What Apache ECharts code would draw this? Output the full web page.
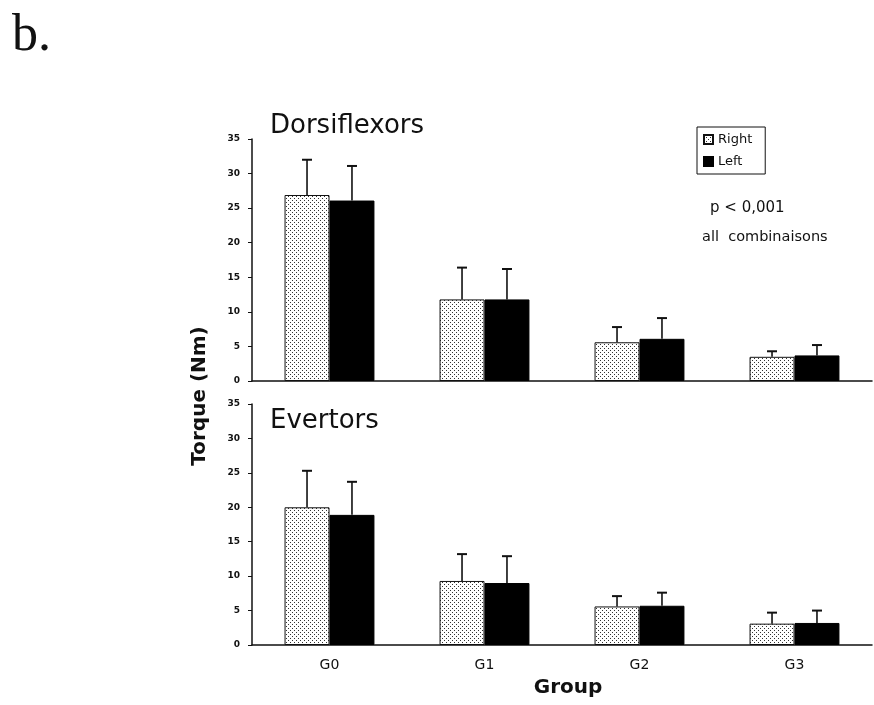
<!DOCTYPE html>
<html>
<head>
<meta charset="utf-8">
<script src="https://cdn.jsdelivr.net/npm/echarts@6/dist/echarts.min.js"></script>
<style>
html,body{margin:0;padding:0;background:#fff;}
#chart{width:874px;height:705px;}
</style>
</head>
<body>
<div id="chart"></div>
<script>
// ---- data ----
const categories = ['G0', 'G1', 'G2', 'G3'];
const yTicks = [0, 5, 10, 15, 20, 25, 30, 35];
// Dorsiflexors (mean, SD)
const dorsiRight = [26.9, 11.8, 5.6, 3.5];
const dorsiRightSD = [5.1, 4.6, 2.2, 0.8];
const dorsiLeft = [26.1, 11.8, 6.1, 3.7];
const dorsiLeftSD = [5.0, 4.4, 3.0, 1.5];
// Evertors (mean, SD)
const everRight = [20.0, 9.3, 5.6, 3.1];
const everRightSD = [5.3, 3.9, 1.5, 1.6];
const everLeft = [18.9, 9.0, 5.7, 3.2];
const everLeftSD = [4.8, 3.9, 1.9, 1.8];

// ---- pattern for "Right" bars ----
const pc = document.createElement('canvas');
pc.width = 4; pc.height = 4;
const pctx = pc.getContext('2d');
pctx.fillStyle = '#ffffff'; pctx.fillRect(0, 0, 4, 4);
pctx.fillStyle = '#333333';
pctx.fillRect(0, 0, 1, 1);
pctx.fillRect(2, 2, 1, 1);
const dotted = { image: pc, repeat: 'repeat' };

const chart = echarts.init(document.getElementById('chart'), null, { renderer: 'canvas' });

function errRender(sign) {
  return function (params, api) {
    const v = api.value(1), e = api.value(2), c = api.value(0);
    const p0 = api.coord([c, v]);
    const p1 = api.coord([c, v + e]);
    const band = api.size([1, 0])[0];
    const x = p0[0] + sign * band * 0.145;
    return {
      type: 'group',
      children: [
        { type: 'line', shape: { x1: x, y1: p0[1], x2: x, y2: p1[1] }, style: { stroke: '#111', lineWidth: 1.6 } },
        { type: 'line', shape: { x1: x - 5, y1: p1[1], x2: x + 5, y2: p1[1] }, style: { stroke: '#111', lineWidth: 2 } }
      ]
    };
  };
}
function errData(vals, sds) { return vals.map((v, i) => [i, v, sds[i]]); }

const yAxisBase = {
  type: 'value', min: 0, max: 35, interval: 5,
  axisLine: { show: true, lineStyle: { color: '#111', width: 1.5 } },
  axisTick: { show: true, length: 4, lineStyle: { color: '#111', width: 1 } },
  splitLine: { show: false },
  axisLabel: { margin: 12, color: '#111', fontSize: 9, fontWeight: 'bold', fontFamily: 'DejaVu Sans' }
};
const barBase = { type: 'bar', barWidth: '29%', barGap: '0%' };

const option = {
  backgroundColor: '#fff',
  animation: false,
  grid: [
    { left: 252, top: 139, width: 620, height: 242 },
    { left: 252, top: 404, width: 620, height: 241 }
  ],
  xAxis: [
    { type: 'category', gridIndex: 0, data: categories,
      axisLine: { lineStyle: { color: '#111', width: 1.5 } },
      axisTick: { show: false }, axisLabel: { show: false } },
    { type: 'category', gridIndex: 1, data: categories,
      axisLine: { lineStyle: { color: '#111', width: 1.5 } },
      axisTick: { show: false },
      axisLabel: { margin: 13, color: '#111', fontSize: 14, fontFamily: 'DejaVu Sans' },
      name: 'Group', nameLocation: 'middle', nameGap: 33,
      nameTextStyle: { color: '#111', fontSize: 20, fontWeight: 'bold', fontFamily: 'DejaVu Sans', padding: [0, 0, 0, 12] } }
  ],
  yAxis: [
    Object.assign({ gridIndex: 0 }, yAxisBase),
    Object.assign({ gridIndex: 1 }, yAxisBase)
  ],
  legend: {
    data: ['Right', 'Left'],
    orient: 'vertical', left: 697, top: 127,
    icon: 'rect',
    itemWidth: 9, itemHeight: 9, itemGap: 9,
    padding: [6, 13, 6, 6],
    borderColor: '#111', borderWidth: 1, backgroundColor: '#fff',
    borderRadius: 0,
    selectedMode: false,
    textStyle: { color: '#111', fontSize: 13, fontFamily: 'DejaVu Sans' }
  },
  series: [
    Object.assign({}, barBase, { name: 'Right', xAxisIndex: 0, yAxisIndex: 0, data: dorsiRight,
      itemStyle: { color: dotted, borderColor: '#111', borderWidth: 1 } }),
    Object.assign({}, barBase, { name: 'Left', xAxisIndex: 0, yAxisIndex: 0, data: dorsiLeft,
      itemStyle: { color: '#000', borderColor: '#000', borderWidth: 1 } }),
    Object.assign({}, barBase, { name: 'Right', xAxisIndex: 1, yAxisIndex: 1, data: everRight,
      itemStyle: { color: dotted, borderColor: '#111', borderWidth: 1 } }),
    Object.assign({}, barBase, { name: 'Left', xAxisIndex: 1, yAxisIndex: 1, data: everLeft,
      itemStyle: { color: '#000', borderColor: '#000', borderWidth: 1 } }),
    { type: 'custom', xAxisIndex: 0, yAxisIndex: 0, renderItem: errRender(-1), data: errData(dorsiRight, dorsiRightSD), encode: { x: 0, y: [1, 2] }, z: 5, silent: true },
    { type: 'custom', xAxisIndex: 0, yAxisIndex: 0, renderItem: errRender(1), data: errData(dorsiLeft, dorsiLeftSD), encode: { x: 0, y: [1, 2] }, z: 5, silent: true },
    { type: 'custom', xAxisIndex: 1, yAxisIndex: 1, renderItem: errRender(-1), data: errData(everRight, everRightSD), encode: { x: 0, y: [1, 2] }, z: 5, silent: true },
    { type: 'custom', xAxisIndex: 1, yAxisIndex: 1, renderItem: errRender(1), data: errData(everLeft, everLeftSD), encode: { x: 0, y: [1, 2] }, z: 5, silent: true }
  ],
  graphic: [
    { type: 'text', x: 12, y: 36, style: { text: 'b.', font: '52px "Liberation Serif"', fill: '#111', textAlign: 'left', align: 'left', textVerticalAlign: 'middle', verticalAlign: 'middle' } },
    { type: 'text', x: 270, y: 126, style: { text: 'Dorsiflexors', font: '26px "DejaVu Sans"', fill: '#111', textAlign: 'left', align: 'left', textVerticalAlign: 'middle', verticalAlign: 'middle' } },
    { type: 'text', x: 270, y: 421, style: { text: 'Evertors', font: '26px "DejaVu Sans"', fill: '#111', textAlign: 'left', align: 'left', textVerticalAlign: 'middle', verticalAlign: 'middle' } },
    { type: 'text', x: 710, y: 208, style: { text: 'p < 0,001', font: '15px "DejaVu Sans"', fill: '#111', textAlign: 'left', align: 'left', textVerticalAlign: 'middle', verticalAlign: 'middle' } },
    { type: 'text', x: 702, y: 237, style: { text: 'all  combinaisons', font: '14.5px "DejaVu Sans"', fill: '#111', textAlign: 'left', align: 'left', textVerticalAlign: 'middle', verticalAlign: 'middle' } },
    { type: 'text', x: 200, y: 396, rotation: Math.PI / 2, style: { text: 'Torque (Nm)', font: 'bold 20px "DejaVu Sans"', fill: '#111', textAlign: 'center', align: 'center', textVerticalAlign: 'middle', verticalAlign: 'middle' } }
  ]
};
chart.setOption(option);
</script>
</body>
</html>
